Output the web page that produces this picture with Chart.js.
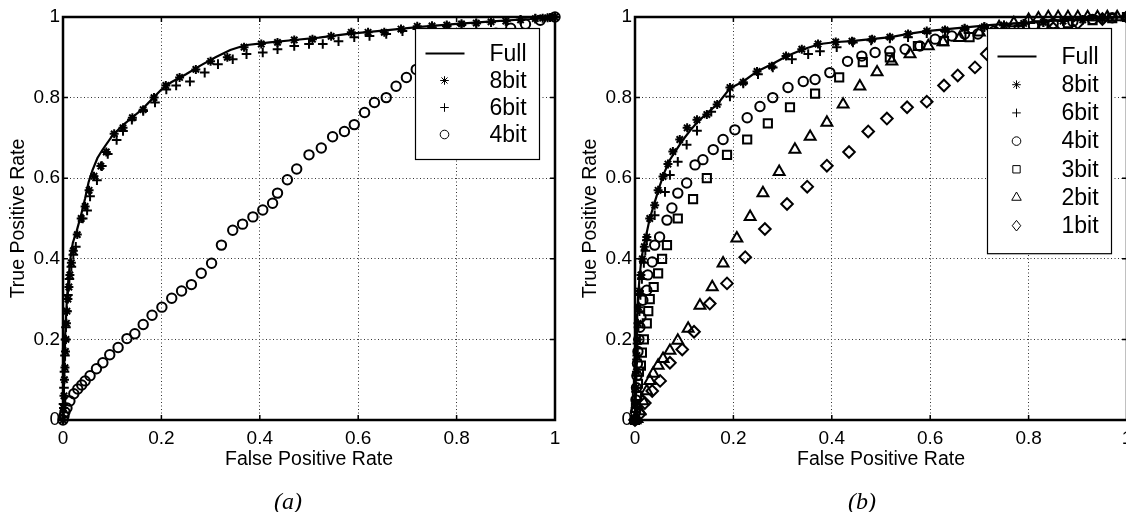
<!DOCTYPE html>
<html>
<head>
<meta charset="utf-8">
<script src="https://cdn.jsdelivr.net/npm/chart.js@4.4.1/dist/chart.umd.min.js"></script>
<style>
  html, body { margin: 0; padding: 0; background: #fff; overflow: hidden; width: 1126px; height: 512px; }
  canvas { position: absolute; top: 0; }
  #chartA { left: 0; }
  #chartB { left: 572px; }
  .cap { position: absolute; top: 489px; font: italic 24px 'Liberation Serif', 'Times New Roman', serif; line-height: 24px; transform: translateX(-50%); }
</style>
</head>
<body>
<canvas id="chartA" width="575" height="512" style="width:575px;height:512px"></canvas>
<canvas id="chartB" width="575" height="512" style="width:575px;height:512px"></canvas>
<div class="cap" style="left:288px">(a)</div>
<div class="cap" style="left:862px">(b)</div>
<script>
// axis ticks
const tickValues = [0, 0.2, 0.4, 0.6, 0.8, 1];
const tickLabels = ['0', '0.2', '0.4', '0.6', '0.8', '1'];

// ---- panel (a): [false positive rate, true positive rate]
const labelsA = ['Full', '8bit', '6bit', '4bit'];
const fullA = [[0,0],[0.001,0.05],[0.002,0.1],[0.003,0.15],[0.004,0.2],[0.006,0.25],[0.008,0.3],[0.011,0.35],[0.015,0.4],[0.02,0.44],
  [0.028,0.47],[0.037,0.51],[0.045,0.55],[0.052,0.59],[0.06,0.62],[0.07,0.65],[0.08,0.67],[0.1,0.705],[0.12,0.73],[0.14,0.75],
  [0.16,0.77],[0.18,0.795],[0.2,0.82],[0.22,0.838],[0.25,0.858],[0.28,0.88],[0.31,0.9],[0.34,0.918],[0.37,0.93],[0.42,0.937],
  [0.47,0.943],[0.52,0.949],[0.58,0.958],[0.65,0.966],[0.72,0.975],[0.8,0.983],[0.88,0.99],[0.95,0.995],[1,1]];
const bit8A = [[0,0],[0.001,0.03],[0.002,0.06],[0.003,0.1],[0.004,0.13],[0.005,0.17],[0.006,0.2],[0.007,0.24],[0.008,0.27],[0.01,0.3],
  [0.012,0.33],[0.014,0.36],[0.017,0.39],[0.021,0.42],[0.029,0.46],[0.037,0.5],[0.045,0.53],[0.053,0.57],[0.063,0.605],[0.077,0.63],
  [0.088,0.665],[0.104,0.71],[0.122,0.725],[0.141,0.75],[0.163,0.77],[0.185,0.8],[0.209,0.83],[0.237,0.85],[0.27,0.87],[0.3,0.89],
  [0.334,0.9],[0.368,0.925],[0.403,0.933],[0.436,0.937],[0.47,0.943],[0.507,0.945],[0.545,0.952],[0.586,0.962],[0.62,0.962],[0.653,0.962],
  [0.687,0.97],[0.72,0.977],[0.75,0.978],[0.78,0.98],[0.81,0.983],[0.84,0.985],[0.87,0.988],[0.9,0.99],[0.93,0.993],[0.96,0.996],
  [0.975,0.997],[0.985,0.998],[0.99,0.999],[0.995,1],[1,1]];
const bit6A = [[0,0],[0.001,0.04],[0.002,0.08],[0.003,0.12],[0.004,0.16],[0.005,0.2],[0.006,0.23],[0.008,0.27],[0.01,0.31],[0.013,0.35],
  [0.017,0.38],[0.021,0.41],[0.026,0.43],[0.04,0.5],[0.049,0.52],[0.055,0.555],[0.069,0.595],[0.079,0.63],[0.091,0.66],[0.109,0.695],
  [0.122,0.717],[0.14,0.745],[0.163,0.767],[0.187,0.788],[0.21,0.82],[0.23,0.83],[0.258,0.84],[0.288,0.862],[0.315,0.883],[0.345,0.895],
  [0.373,0.908],[0.406,0.912],[0.436,0.92],[0.47,0.928],[0.5,0.933],[0.528,0.933],[0.56,0.94],[0.592,0.95],[0.623,0.953],[0.657,0.958],
  [0.69,0.965],[0.72,0.97],[0.75,0.973],[0.78,0.977],[0.81,0.98],[0.84,0.984],[0.87,0.987],[0.9,0.99],[0.93,0.993],[0.96,0.996],[1,1]];
const bit4A = [[0,0],[0.002,0.01],[0.004,0.02],[0.008,0.03],[0.014,0.047],[0.022,0.065],[0.03,0.077],[0.038,0.087],[0.045,0.097],[0.055,0.11],
  [0.068,0.127],[0.081,0.142],[0.095,0.162],[0.112,0.18],[0.13,0.202],[0.146,0.214],[0.163,0.237],[0.181,0.26],[0.201,0.28],[0.221,0.302],
  [0.241,0.32],[0.261,0.336],[0.281,0.364],[0.302,0.389],[0.322,0.434],[0.345,0.471],[0.365,0.486],[0.386,0.504],[0.406,0.521],[0.426,0.538],
  [0.436,0.563],[0.456,0.596],[0.475,0.623],[0.5,0.658],[0.525,0.675],[0.548,0.703],[0.572,0.716],[0.592,0.733],[0.613,0.763],[0.633,0.788],
  [0.657,0.8],[0.677,0.828],[0.698,0.85],[0.718,0.87],[0.74,0.885],[0.76,0.9],[0.79,0.915],[0.82,0.93],[0.85,0.945],[0.88,0.96],
  [0.91,0.972],[0.94,0.982],[0.97,0.992],[1,1]];

// ---- panel (b)
const labelsB = ['Full', '8bit', '6bit', '4bit', '3bit', '2bit', '1bit'];
const fullB = [[0,0],[0.001,0.06],[0.002,0.12],[0.003,0.18],[0.004,0.24],[0.006,0.3],[0.009,0.35],[0.013,0.4],[0.016,0.42],[0.023,0.46],
  [0.03,0.5],[0.04,0.54],[0.05,0.58],[0.06,0.615],[0.071,0.646],[0.085,0.672],[0.098,0.696],[0.112,0.718],[0.126,0.738],[0.145,0.76],
  [0.167,0.783],[0.193,0.823],[0.22,0.84],[0.248,0.865],[0.278,0.883],[0.309,0.903],[0.342,0.92],[0.376,0.933],[0.41,0.938],[0.44,0.94],
  [0.48,0.945],[0.52,0.95],[0.555,0.958],[0.593,0.965],[0.65,0.972],[0.72,0.98],[0.8,0.987],[0.9,0.994],[1,1]];
const bit8B = [[0,0],[0.001,0.04],[0.002,0.08],[0.003,0.12],[0.004,0.16],[0.005,0.2],[0.006,0.24],[0.007,0.28],[0.009,0.32],[0.012,0.36],
  [0.015,0.4],[0.019,0.43],[0.024,0.454],[0.03,0.5],[0.04,0.533],[0.047,0.57],[0.057,0.604],[0.067,0.635],[0.077,0.666],[0.091,0.696],
  [0.106,0.725],[0.126,0.745],[0.146,0.758],[0.167,0.783],[0.193,0.825],[0.22,0.838],[0.248,0.865],[0.278,0.878],[0.307,0.903],[0.339,0.92],
  [0.372,0.933],[0.408,0.938],[0.441,0.94],[0.482,0.945],[0.518,0.95],[0.555,0.958],[0.593,0.965],[0.63,0.968],[0.67,0.972],[0.71,0.976],
  [0.75,0.98],[0.79,0.984],[0.83,0.987],[0.87,0.99],[0.91,0.993],[0.95,0.996],[1,1]];
const bit6B = [[0,0],[0.001,0.03],[0.002,0.07],[0.003,0.11],[0.004,0.15],[0.005,0.19],[0.007,0.23],[0.009,0.27],[0.011,0.31],[0.014,0.35],
  [0.018,0.39],[0.021,0.42],[0.024,0.446],[0.04,0.508],[0.061,0.566],[0.071,0.608],[0.087,0.641],[0.105,0.683],[0.126,0.718],[0.155,0.765],
  [0.193,0.803],[0.22,0.835],[0.25,0.858],[0.28,0.875],[0.319,0.895],[0.352,0.908],[0.376,0.915],[0.41,0.925],[0.443,0.937],[0.48,0.942],
  [0.518,0.947],[0.555,0.95],[0.593,0.96],[0.63,0.965],[0.67,0.97],[0.71,0.975],[0.75,0.979],[0.79,0.983],[0.83,0.987],[0.87,0.99],
  [0.91,0.993],[0.95,0.996],[1,1]];
const bit4B = [[0,0],[0.001,0.02],[0.002,0.05],[0.003,0.08],[0.004,0.11],[0.005,0.14],[0.006,0.17],[0.008,0.2],[0.01,0.23],[0.012,0.255],
  [0.016,0.297],[0.024,0.322],[0.026,0.36],[0.035,0.392],[0.04,0.434],[0.05,0.454],[0.065,0.496],[0.075,0.526],[0.087,0.563],[0.105,0.588],
  [0.122,0.633],[0.138,0.646],[0.159,0.671],[0.179,0.696],[0.203,0.72],[0.228,0.75],[0.254,0.778],[0.28,0.8],[0.311,0.825],[0.342,0.84],
  [0.366,0.845],[0.396,0.862],[0.432,0.89],[0.461,0.903],[0.488,0.912],[0.518,0.915],[0.549,0.92],[0.579,0.928],[0.61,0.945],[0.644,0.953],
  [0.67,0.958],[0.697,0.958],[0.73,0.965],[0.77,0.972],[0.81,0.978],[0.85,0.984],[0.89,0.989],[0.93,0.994],[0.97,0.998],[1,1]];
const bit3B = [[0,0],[0.002,0.03],[0.004,0.06],[0.006,0.09],[0.008,0.12],[0.012,0.135],[0.014,0.167],[0.018,0.2],[0.024,0.24],[0.027,0.27],
  [0.03,0.3],[0.038,0.33],[0.047,0.364],[0.055,0.4],[0.065,0.434],[0.087,0.5],[0.118,0.548],[0.146,0.6],[0.187,0.658],[0.228,0.696],
  [0.27,0.736],[0.315,0.776],[0.366,0.81],[0.415,0.85],[0.463,0.888],[0.518,0.9],[0.575,0.928],[0.628,0.94],[0.68,0.95],[0.73,0.96],
  [0.78,0.968],[0.83,0.976],[0.88,0.985],[0.93,0.992],[0.97,0.997],[1,1]];
const bit2B = [[0,0],[0.004,0.003],[0.01,0.022],[0.016,0.047],[0.024,0.072],[0.03,0.097],[0.037,0.115],[0.047,0.135],[0.057,0.152],[0.071,0.172],
  [0.087,0.197],[0.108,0.227],[0.132,0.284],[0.157,0.33],[0.179,0.389],[0.207,0.451],[0.234,0.504],[0.26,0.563],[0.293,0.616],[0.325,0.671],
  [0.356,0.703],[0.39,0.738],[0.423,0.783],[0.457,0.828],[0.492,0.863],[0.522,0.89],[0.559,0.908],[0.596,0.928],[0.626,0.938],[0.66,0.948],
  [0.7,0.962],[0.74,0.975],[0.77,0.985],[0.8,0.993],[0.82,0.997],[0.84,1],[0.86,1],[0.88,1],[0.9,1],[0.92,1],[0.94,1],[0.96,1],[0.98,1],[1,1]];
const bit1B = [[0,0],[0.01,0.015],[0.02,0.042],[0.035,0.072],[0.051,0.097],[0.071,0.142],[0.096,0.175],[0.12,0.219],[0.152,0.289],[0.187,0.339],
  [0.224,0.404],[0.264,0.474],[0.309,0.536],[0.35,0.579],[0.39,0.631],[0.435,0.665],[0.474,0.716],[0.512,0.748],[0.553,0.776],[0.593,0.79],
  [0.628,0.83],[0.656,0.855],[0.691,0.875],[0.715,0.908],[0.75,0.93],[0.8,0.955],[0.85,0.972],[0.9,0.985],[0.95,0.995],[1,1]];

// marker style per series name
const markStyle = {
  '8bit': { pointStyle: 'star', radius: 4.5, width: 2, legend: 4.3 },
  '6bit': { pointStyle: 'cross', radius: 4.8, width: 2, legend: 4.3 },
  '4bit': { pointStyle: 'circle', radius: 4.7, width: 2, legend: 4.3 },
  '3bit': { pointStyle: 'rect', radius: 5.8, width: 2, legend: 5.2 },
  '2bit': { pointStyle: 'triangle', radius: 6.3, width: 2, legend: 5.5 },
  '1bit': { pointStyle: 'rectRot', radius: 5.8, width: 2, legend: 5.3 }
};

Chart.defaults.font.family = "'Liberation Sans', Arial, sans-serif";
Chart.defaults.color = '#000';

function toXY(arr) { return arr.map(p => ({ x: p[0], y: p[1] })); }

function buildDatasets(labels, series) {
  return labels.map((name, i) => {
    if (name === 'Full') {
      return { label: name, data: toXY(series[i]), showLine: true, borderColor: '#000', borderWidth: 2.2,
               pointRadius: 0, fill: false, clip: false };
    }
    const m = markStyle[name];
    return { label: name, data: toXY(series[i]), showLine: false, pointStyle: m.pointStyle,
             pointRadius: m.radius, pointBorderWidth: m.width, borderColor: '#000',
             backgroundColor: 'rgba(0,0,0,0)', clip: false, legendRadius: m.legend };
  });
}

// simple marker for the legend
function drawMark(ctx, style, x, y, r) {
  ctx.beginPath();
  if (style === 'star' || style === 'cross') {
    ctx.moveTo(x - r, y); ctx.lineTo(x + r, y);
    ctx.moveTo(x, y - r); ctx.lineTo(x, y + r);
    if (style === 'star') {
      const d = r * Math.SQRT1_2;
      ctx.moveTo(x - d, y - d); ctx.lineTo(x + d, y + d);
      ctx.moveTo(x - d, y + d); ctx.lineTo(x + d, y - d);
    }
  } else if (style === 'circle') {
    ctx.arc(x, y, r, 0, Math.PI * 2);
  } else if (style === 'rect') {
    const s = r * Math.SQRT1_2;
    ctx.rect(x - s, y - s, 2 * s, 2 * s);
  } else if (style === 'triangle') {
    ctx.moveTo(x, y - r);
    ctx.lineTo(x + r * 0.866, y + r * 0.5);
    ctx.lineTo(x - r * 0.866, y + r * 0.5);
    ctx.closePath();
  } else if (style === 'rectRot') {
    ctx.moveTo(x, y - r); ctx.lineTo(x + r * 0.8, y); ctx.lineTo(x, y + r); ctx.lineTo(x - r * 0.8, y);
    ctx.closePath();
  }
  ctx.stroke();
}

const framePlugin = {
  id: 'frame',
  afterDraw(chart, args, opts) {
    const { ctx, chartArea: a } = chart;
    const xs = chart.scales.x, ys = chart.scales.y;
    ctx.save();
    ctx.strokeStyle = '#000';
    ctx.lineWidth = 1.5;
    tickValues.forEach(v => {
      const px = xs.getPixelForValue(v), py = ys.getPixelForValue(v);
      ctx.beginPath();
      ctx.moveTo(px, a.bottom); ctx.lineTo(px, a.bottom - 5);
      ctx.moveTo(px, a.top); ctx.lineTo(px, a.top + 5);
      ctx.moveTo(a.left, py); ctx.lineTo(a.left + 5, py);
      ctx.moveTo(a.right, py); ctx.lineTo(a.right - 5, py);
      ctx.stroke();
    });
    ctx.lineWidth = 2.5;
    ctx.strokeRect(a.left, a.top, a.right - a.left, a.bottom - a.top);

    // legend box inside the plot, top right
    const dsets = chart.data.datasets;
    const w = 124, h = 2 * opts.pad + (dsets.length - 1) * opts.rowH;
    const bx = Math.round(a.right - 16 - w) + 0.5, by = Math.round(a.top + 11) + 0.5;
    ctx.fillStyle = '#fff';
    ctx.fillRect(bx, by, w, h);
    ctx.lineWidth = 1.2;
    ctx.strokeRect(bx, by, w, h);
    ctx.font = "23px 'Liberation Sans', Arial, sans-serif";
    ctx.textBaseline = 'middle';
    ctx.textAlign = 'left';
    dsets.forEach((ds, i) => {
      const ry = by + opts.pad + i * opts.rowH;
      ctx.strokeStyle = '#000';
      if (ds.showLine) {
        ctx.lineWidth = 2.2;
        ctx.beginPath(); ctx.moveTo(bx + 10, ry); ctx.lineTo(bx + 49, ry); ctx.stroke();
      } else {
        ctx.lineWidth = 1;
        drawMark(ctx, ds.pointStyle, bx + 29, ry, ds.legendRadius);
      }
      ctx.fillStyle = '#000';
      ctx.fillText(ds.label, bx + 74, ry + 1);
    });
    ctx.restore();
  }
};

function axis(title, isX) {
  return {
    type: 'linear', min: 0, max: 1,
    afterBuildTicks: s => { s.ticks = tickValues.map(v => ({ value: v })); },
    afterFit: s => { if (isX) s.height = 51; else s.width = 63; },
    ticks: { color: '#000', font: { size: 19 }, padding: isX ? 7 : 3, maxRotation: 0,
             callback: (v, i) => tickLabels[i] },
    grid: { color: '#333', lineWidth: 1, drawTicks: false, borderDash: [1, 2.5] },
    border: { display: false, dash: [1, 2.5] },
    title: { display: true, text: title, color: '#000', font: { size: 19.5 },
             padding: isX ? { top: 0, bottom: 0 } : { top: 7, bottom: 0 } }
  };
}

function makeChart(id, labels, series, legendPad, legendRow) {
  return new Chart(document.getElementById(id), {
    type: 'scatter',
    data: { datasets: buildDatasets(labels, series) },
    options: {
      responsive: false,
      animation: false,
      devicePixelRatio: 1,
      events: [],
      layout: { padding: { left: 0, top: 17, right: 20, bottom: 41 } },
      scales: {
        x: axis('False Positive Rate', true),
        y: axis('True Positive Rate', false)
      },
      plugins: {
        legend: { display: false },
        tooltip: { enabled: false },
        frame: { pad: legendPad, rowH: legendRow }
      }
    },
    plugins: [framePlugin]
  });
}

makeChart('chartA', labelsA, [fullA, bit8A, bit6A, bit4A], 25, 27);
makeChart('chartB', labelsB, [fullB, bit8B, bit6B, bit4B, bit3B, bit2B, bit1B], 28, 28.2);
</script>
</body>
</html>
